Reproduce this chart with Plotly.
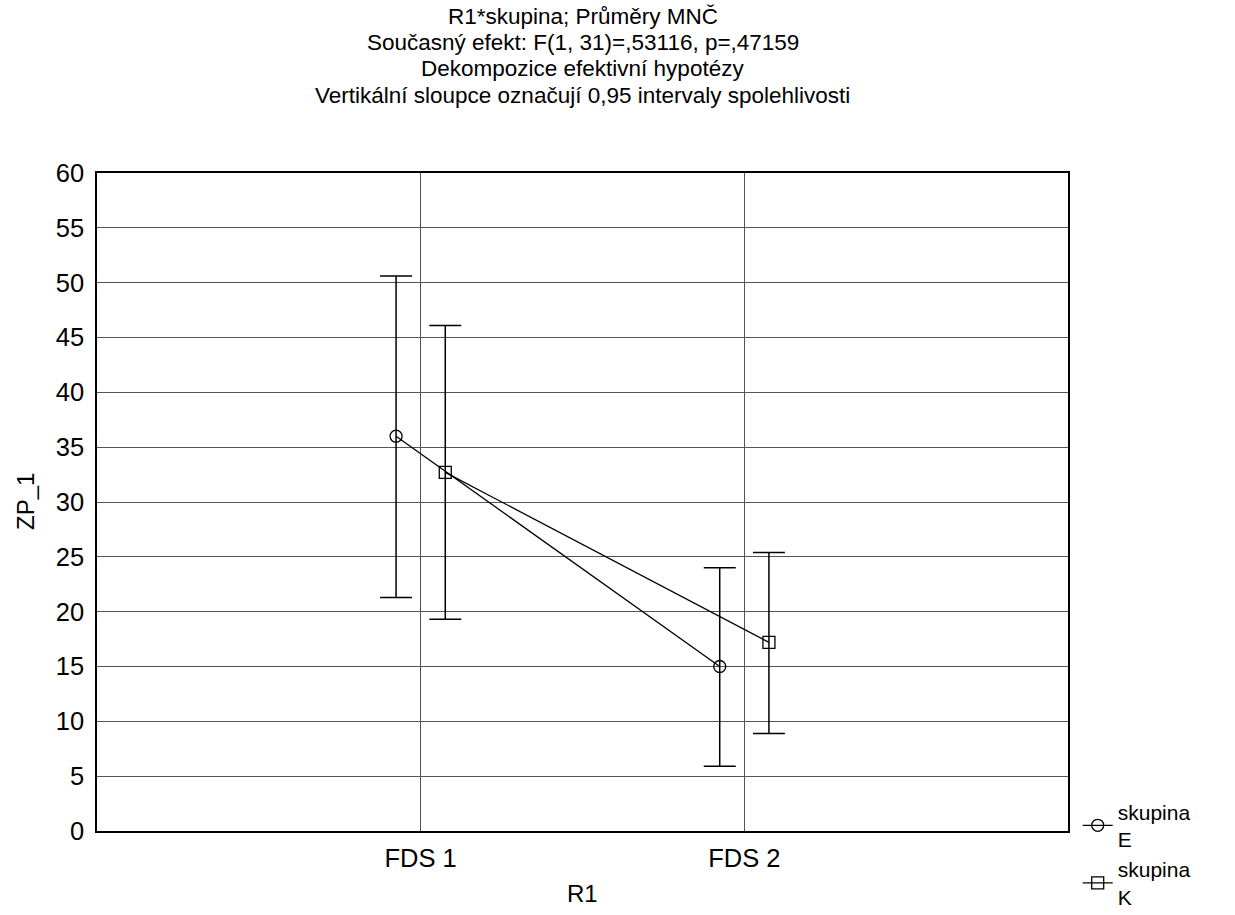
import plotly.graph_objects as go
import numpy as np

categories = ["FDS 1", "FDS 2"]
mean_E = [36.0, 15.0]
low_E = [21.3, 5.9]
high_E = [50.6, 24.0]
mean_K = [32.7, 17.2]
low_K = [19.3, 8.9]
high_K = [46.1, 25.4]

title_lines = [
    "R1*skupina; Průměry MNČ",
    "Současný efekt: F(1, 31)=,53116, p=,47159",
    "Dekompozice efektivní hypotézy",
    "Vertikální sloupce označují 0,95 intervaly spolehlivosti",
]

pos = np.arange(len(categories)) + 1
off = 0.076

fig = go.Figure()
for name, m, lo, hi, sym, dx in [
    ("skupina<br>E", mean_E, low_E, high_E, "circle-open", -off),
    ("skupina<br>K", mean_K, low_K, high_K, "square-open", off),
]:
    m = np.array(m); lo = np.array(lo); hi = np.array(hi)
    fig.add_trace(go.Scatter(
        x=pos + dx, y=m, name=name, mode="lines+markers",
        line=dict(color="black", width=1.3),
        marker=dict(symbol=sym, size=12, color="black", line=dict(width=1.3, color="black")),
        error_y=dict(type="data", symmetric=False, array=hi - m, arrayminus=m - lo,
                     color="black", thickness=1.5, width=16),
    ))

shifts = [157, 131, 105, 78]
for txt, sh in zip(title_lines, shifts):
    fig.add_annotation(text=txt, xref="paper", yref="paper", x=0.5, y=1,
                       xanchor="center", yanchor="middle", yshift=sh,
                       showarrow=False, font=dict(size=22.5, color="black"))

# axis titles
fig.add_annotation(text="R1", xref="paper", yref="paper", x=0.5, y=0,
                   xanchor="center", yanchor="middle", yshift=-62,
                   showarrow=False, font=dict(size=24, color="black"))
fig.add_annotation(text="ZP_1", xref="paper", yref="paper", x=0, y=0.5,
                   xanchor="center", yanchor="middle", xshift=-72, textangle=-90,
                   showarrow=False, font=dict(size=24, color="black"))

fig.update_layout(
    width=1235, height=915,
    paper_bgcolor="white", plot_bgcolor="white",
    font=dict(family="Liberation Sans, Arial, sans-serif", size=24, color="black"),
    margin=dict(l=97, r=167, t=173, b=84, autoexpand=False),
    showlegend=True,
    legend=dict(x=1.01, xanchor="left", y=0.06, yanchor="top", bgcolor="rgba(0,0,0,0)",
                font=dict(size=21), tracegroupgap=0),
    xaxis=dict(range=[0, 3], tickvals=list(pos), ticktext=categories,
               tickfont=dict(size=25.5), automargin=False,
               showgrid=True, gridcolor="#555555", gridwidth=1,
               showline=True, linecolor="black", linewidth=1.5, mirror=True,
               ticks="outside", ticklen=4, tickcolor="rgba(0,0,0,0)", zeroline=False),
    yaxis=dict(range=[0, 60], dtick=5, showgrid=True, gridcolor="#555555", gridwidth=1,
               tickfont=dict(size=25.5), automargin=False,
               showline=True, linecolor="black", linewidth=1.5, mirror=True,
               ticks="outside", ticklen=6, tickcolor="rgba(0,0,0,0)", zeroline=False),
)

fig.write_html("out.html")
